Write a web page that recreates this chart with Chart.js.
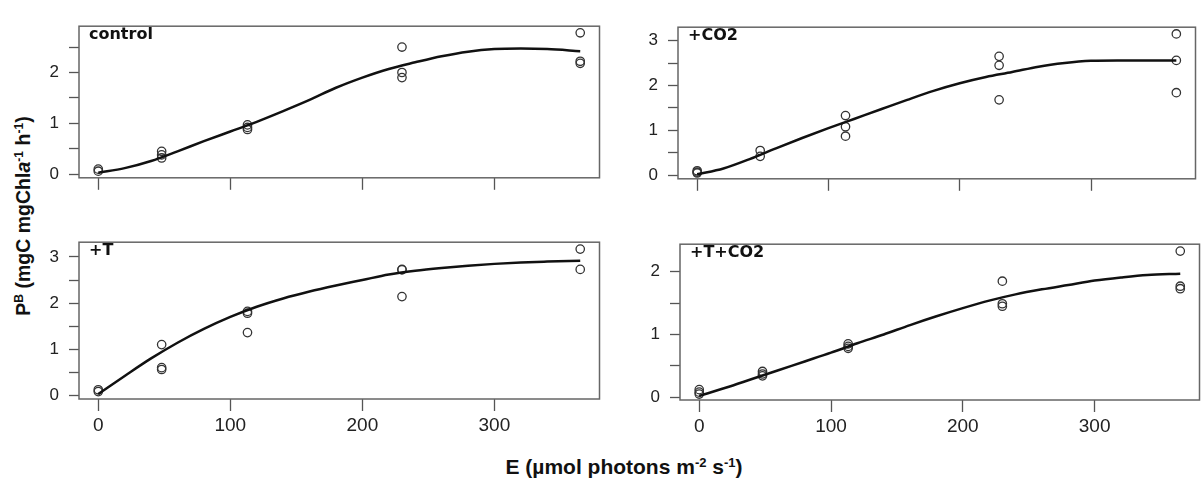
<!DOCTYPE html>
<html lang="en">
<head>
  <meta charset="UTF-8" />
  <title>P-E curves</title>
  <script src="https://cdn.jsdelivr.net/npm/chart.js"></script>
  <style>
    body {
      margin: 0;
      background: #fff;
      font-family: 'Liberation Sans', Arial, sans-serif;
    }
    .figure {
      position: relative;
      width: 1204px;
      height: 484px;
      overflow: hidden;
    }
    .figure canvas {
      position: absolute;
    }
    .panel-name {
      position: absolute;
      font-family: 'DejaVu Sans', sans-serif;
      font-weight: bold;
      font-size: 16px;
      color: #111;
      line-height: 1;
    }
    .ytitle {
      position: absolute;
      left: 23px;
      top: 216px;
      transform: translate(-50%, -50%) rotate(-90deg);
      white-space: nowrap;
      font-weight: bold;
      font-size: 19.5px;
      color: #111;
    }
    .xtitle {
      position: absolute;
      left: 624px;
      top: 467px;
      transform: translate(-50%, -50%);
      white-space: nowrap;
      font-weight: bold;
      font-size: 21px;
      color: #111;
    }
    sup {
      font-size: 0.62em;
      vertical-align: 0.55em;
      line-height: 0;
    }
  </style>
</head>
<body>

<div class="figure" id="fig">
  <div class="ytitle">P<sup>B</sup> (mgC mgChl<i>a</i><sup>-1</sup> h<sup>-1</sup>)</div>
  <div class="xtitle">E (µmol photons m<sup>-2</sup> s<sup>-1</sup>)</div>
</div>

<script>
  // irradiance ticks and the fitted-curve grid
  const eTicks = [0, 100, 200, 300];
  const curveE = [0, 20, 40, 60, 80, 100, 120, 140, 160, 180, 200, 220, 240, 260, 280, 300, 320, 340, 365];

  // control
  const controlE = [0, 0, 48, 48, 48, 113, 113, 113, 230, 230, 230, 365, 365, 365];
  const controlP = [0.10, 0.06, 0.45, 0.38, 0.32, 0.97, 0.92, 0.88, 2.50, 2.00, 1.90, 2.78, 2.22, 2.18];
  const controlFit = [0.03, 0.12, 0.26, 0.45, 0.65, 0.84, 1.03, 1.24, 1.46, 1.70, 1.90, 2.07, 2.20, 2.32, 2.41, 2.46, 2.47, 2.46, 2.42];

  // +CO2
  const co2E = [0, 0, 0, 48, 48, 113, 113, 113, 230, 230, 230, 365, 365, 365];
  const co2P = [0.10, 0.07, 0.05, 0.55, 0.42, 1.33, 1.08, 0.87, 2.65, 2.45, 1.68, 3.15, 2.56, 1.84];
  const co2Fit = [0.02, 0.15, 0.36, 0.60, 0.83, 1.05, 1.26, 1.47, 1.68, 1.88, 2.05, 2.19, 2.30, 2.42, 2.50, 2.55, 2.56, 2.56, 2.56];

  // +T
  const tempE = [0, 0, 48, 48, 48, 113, 113, 113, 230, 230, 230, 365, 365];
  const tempP = [0.12, 0.08, 1.10, 0.60, 0.56, 1.82, 1.78, 1.36, 2.73, 2.72, 2.14, 3.17, 2.73];
  const tempFit = [0.03, 0.42, 0.80, 1.14, 1.44, 1.70, 1.92, 2.10, 2.25, 2.38, 2.50, 2.62, 2.70, 2.76, 2.81, 2.85, 2.88, 2.90, 2.92];

  // +T+CO2
  const bothE = [0, 0, 0, 48, 48, 48, 113, 113, 113, 230, 230, 230, 365, 365, 365];
  const bothP = [0.12, 0.08, 0.05, 0.41, 0.37, 0.34, 0.85, 0.81, 0.78, 1.85, 1.49, 1.45, 2.33, 1.77, 1.73];
  const bothFit = [0.02, 0.15, 0.29, 0.43, 0.57, 0.71, 0.86, 1.00, 1.15, 1.29, 1.42, 1.54, 1.64, 1.72, 1.79, 1.86, 1.91, 1.95, 1.97];

  const Y_AXIS_W = 60;
  const PAD_TOP = 6;
  const PAD_RIGHT = 3;

  const panels = [
    { name: 'control', E: controlE, P: controlP, fit: controlFit,
      box: [79, 12, 602, 182], yMin: -0.07, yMax: 2.91, yTicks: [0, 0.5, 1, 1.5, 2, 2.5], xLabels: false },
    { name: '+CO2', E: co2E, P: co2P, fit: co2Fit,
      box: [678, 13, 1198, 183], yMin: -0.08, yMax: 3.30, yTicks: [0, 0.5, 1, 1.5, 2, 2.5, 3], xLabels: false },
    { name: '+T', E: tempE, P: tempP, fit: tempFit,
      box: [79, 228, 602, 399], yMin: -0.08, yMax: 3.32, yTicks: [0, 0.5, 1, 1.5, 2, 2.5, 3], xLabels: true },
    { name: '+T+CO2', E: bothE, P: bothP, fit: bothFit,
      box: [680, 230, 1202, 400], yMin: -0.045, yMax: 2.44, yTicks: [0, 0.5, 1, 1.5, 2], xLabels: true }
  ];

  // draws the full frame round the plot region
  const framePlugin = {
    id: 'frame',
    afterDraw(chart) {
      const a = chart.chartArea;
      const ctx = chart.ctx;
      ctx.save();
      ctx.strokeStyle = '#666';
      ctx.lineWidth = 1.5;
      ctx.strokeRect(a.left, a.top, a.right - a.left, a.bottom - a.top);
      ctx.restore();
    }
  };

  const fig = document.getElementById('fig');

  panels.forEach(p => {
    const [x0, y0, x1, y1] = p.box;
    const xAxisH = p.xLabels ? 50 : 16;
    const canvas = document.createElement('canvas');
    const w = (x1 - x0) + Y_AXIS_W + PAD_RIGHT;
    const h = (y1 - y0) + PAD_TOP + xAxisH;
    canvas.width = w;
    canvas.height = h;
    canvas.style.left = (x0 - Y_AXIS_W) + 'px';
    canvas.style.top = (y0 - PAD_TOP) + 'px';
    canvas.style.width = w + 'px';
    canvas.style.height = h + 'px';
    fig.appendChild(canvas);

    const label = document.createElement('div');
    label.className = 'panel-name';
    label.textContent = p.name;
    label.style.left = (x0 + 10) + 'px';
    label.style.top = (y0 + 14) + 'px';
    fig.appendChild(label);

    new Chart(canvas.getContext('2d'), {
      type: 'scatter',
      data: {
        datasets: [
          {
            type: 'line',
            data: curveE.map((e, i) => ({ x: e, y: p.fit[i] })),
            borderColor: '#111',
            borderWidth: 2.5,
            pointRadius: 0,
            cubicInterpolationMode: 'monotone',
            fill: false
          },
          {
            data: p.E.map((e, i) => ({ x: e, y: p.P[i] })),
            pointStyle: 'circle',
            pointRadius: 4.2,
            pointBorderWidth: 1.3,
            pointBorderColor: '#333',
            pointBackgroundColor: 'rgba(255,255,255,0)'
          }
        ]
      },
      options: {
        responsive: false,
        animation: false,
        events: [],
        layout: { padding: { top: PAD_TOP, right: PAD_RIGHT, left: 0, bottom: 0 } },
        plugins: { legend: { display: false }, tooltip: { enabled: false } },
        scales: {
          x: {
            type: 'linear',
            min: -14.6,
            max: 379.6,
            afterBuildTicks: s => { s.ticks = eTicks.map(v => ({ value: v })); },
            afterFit: s => { s.height = xAxisH; },
            grid: { drawOnChartArea: false, drawTicks: true, tickLength: 12, tickColor: '#555', tickWidth: 1.3 },
            border: { display: false },
            ticks: {
              display: p.xLabels,
              padding: 3,
              color: '#222',
              font: { family: 'Liberation Sans', size: 19 },
              maxRotation: 0
            }
          },
          y: {
            min: p.yMin,
            max: p.yMax,
            afterBuildTicks: s => { s.ticks = p.yTicks.map(v => ({ value: v })); },
            afterFit: s => { s.width = Y_AXIS_W; },
            grid: { drawOnChartArea: false, drawTicks: true, tickLength: 10, tickColor: '#555', tickWidth: 1.3 },
            border: { display: false },
            ticks: {
              padding: 10,
              color: '#222',
              font: { family: 'Liberation Sans', size: 17 },
              callback: v => Number.isInteger(v) ? v : ''
            }
          }
        }
      },
      plugins: [framePlugin]
    });
  });
</script>

</body>
</html>
